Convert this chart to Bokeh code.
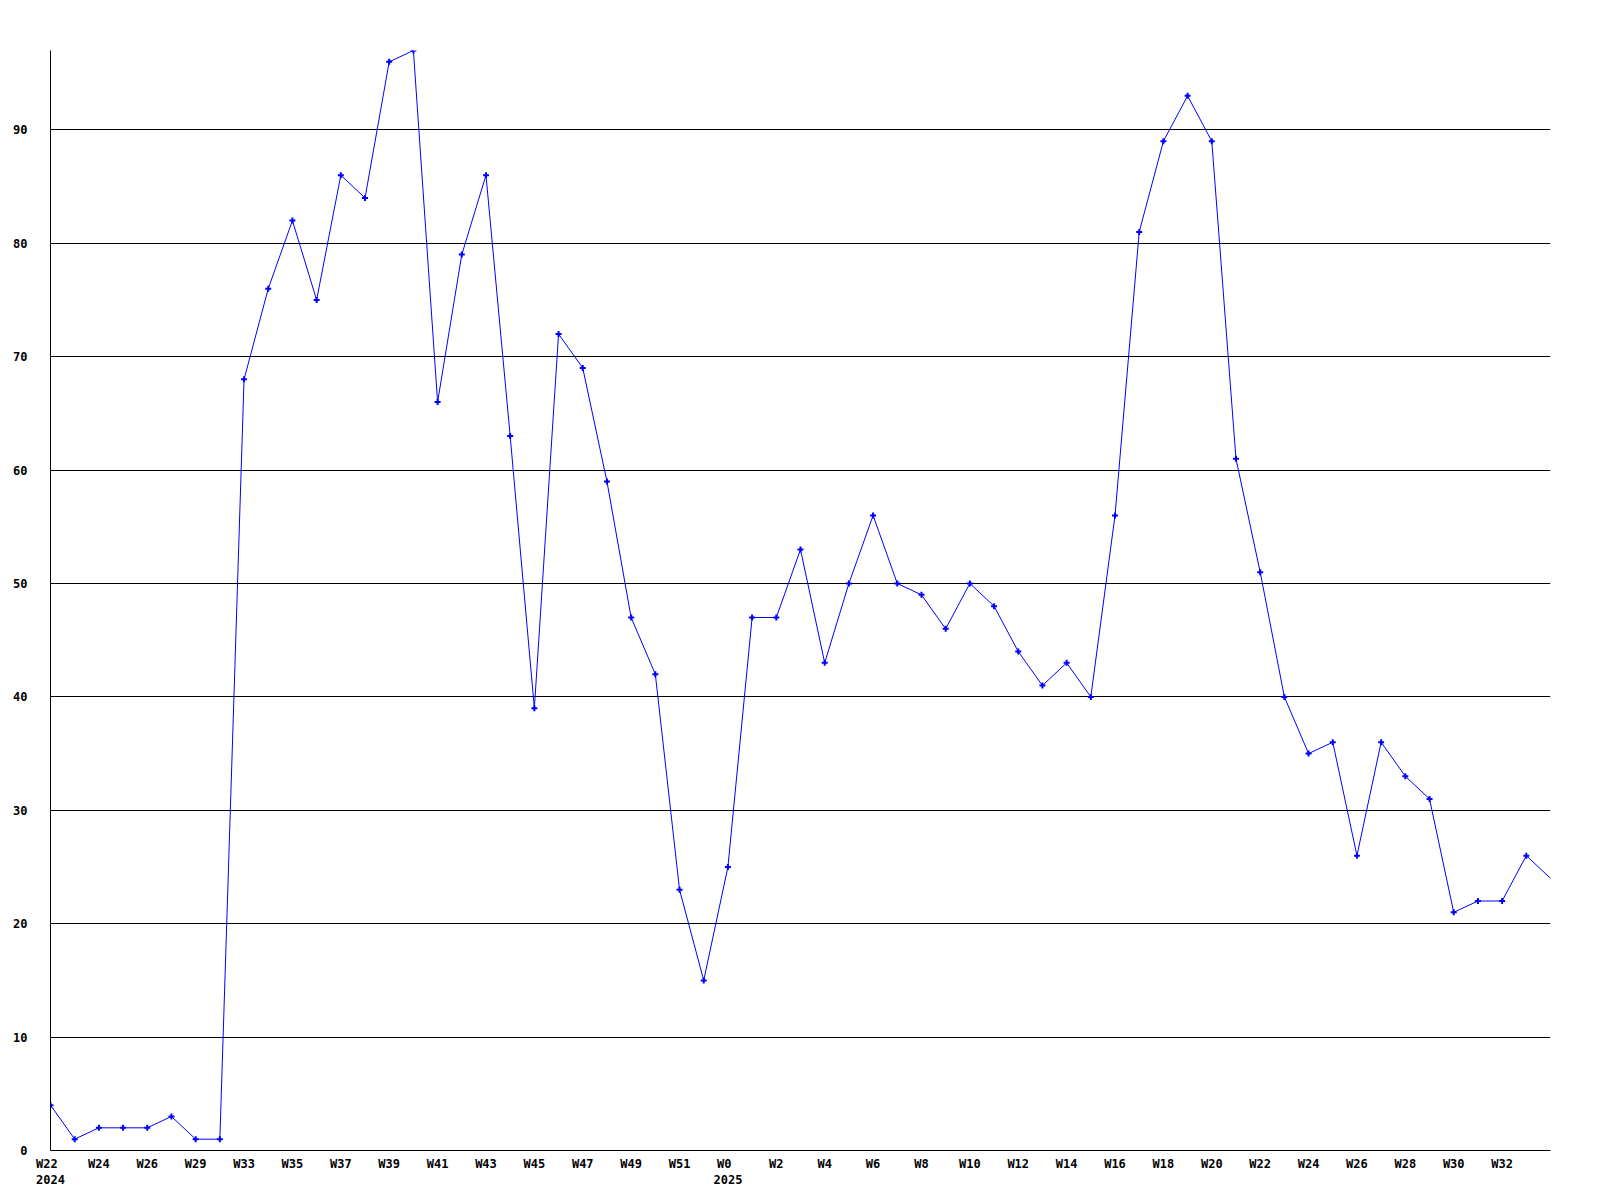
from bokeh.plotting import figure
from bokeh.models import Range1d, FixedTicker
from bokeh.embed import file_html
from bokeh.resources import INLINE

# Weekly categories (2024 W22 ... 2025 W34)
weeks = ["W22", "W23", "W24", "W25", "W26", "W27", "W29", "W31",
         "W33", "W34", "W35", "W36", "W37", "W38", "W39", "W40",
         "W41", "W42", "W43", "W44", "W45", "W46", "W47", "W48",
         "W49", "W50", "W51", "W52",
         "W0", "W1", "W2", "W3", "W4", "W5", "W6", "W7", "W8", "W9",
         "W10", "W11", "W12", "W13", "W14", "W15", "W16", "W17", "W18",
         "W19", "W20", "W21", "W22", "W23", "W24", "W25", "W26", "W27",
         "W28", "W29", "W30", "W31", "W32", "W33", "W34"]
year_marks = {0: "2024", 28: "2025"}

values = [4, 1, 2, 2, 2, 3, 1, 1,
          68, 76, 82, 75, 86, 84, 96, 97,
          66, 79, 86, 63, 39, 72, 69, 59,
          47, 42, 23, 15, 25, 47, 47, 53,
          43, 50, 56, 50, 49, 46, 50, 48,
          44, 41, 43, 40, 56, 81, 89, 93,
          89, 61, 51, 40, 35, 36, 26, 36,
          33, 31, 21, 22, 22, 26, 24]

y_ticks = [0, 10, 20, 30, 40, 50, 60, 70, 80, 90]

x = list(range(len(values)))

p = figure(width=1584, height=1196, output_backend="svg", toolbar_location=None,
           x_range=Range1d(0, len(values) - 1), y_range=Range1d(0, max(values)),
           min_border_left=50, min_border_right=34,
           min_border_top=50, min_border_bottom=46)
p.outline_line_color = None
p.background_fill_color = "white"
p.border_fill_color = "white"

p.line(x, values, line_color="#0000ff", line_width=1)
p.scatter(x[:-1], values[:-1], marker="cross", size=6, line_width=2,
          line_color="#0000ff")

tick_idx = list(range(0, len(weeks) - 1, 2))
overrides = {}
for i in tick_idx:
    lab = weeks[i]
    if i in year_marks:
        lab = lab + " \n" + year_marks[i]
    overrides[i] = lab

p.xaxis.ticker = FixedTicker(ticks=tick_idx)
p.xaxis.major_label_overrides = overrides
p.yaxis.ticker = FixedTicker(ticks=y_ticks)

for ax in (p.xaxis, p.yaxis):
    ax.axis_line_color = "black"
    ax.axis_line_width = 1
    ax.major_tick_line_color = None
    ax.minor_tick_line_color = None
    ax.major_label_text_font = "DejaVu Sans Mono"
    ax.major_label_text_font_style = "bold"
    ax.major_label_text_font_size = "12px"
    ax.major_label_text_color = "black"

p.xaxis.major_label_standoff = 0
p.xaxis.major_label_text_line_height = 1.15
p.yaxis.major_label_standoff = 17

p.xgrid.grid_line_color = None
p.ygrid.ticker = FixedTicker(ticks=y_ticks)
p.ygrid.grid_line_color = "black"
p.ygrid.grid_line_width = 1
p.ygrid.grid_line_alpha = 1.0

open("out.html", "w").write(file_html(p, INLINE))
